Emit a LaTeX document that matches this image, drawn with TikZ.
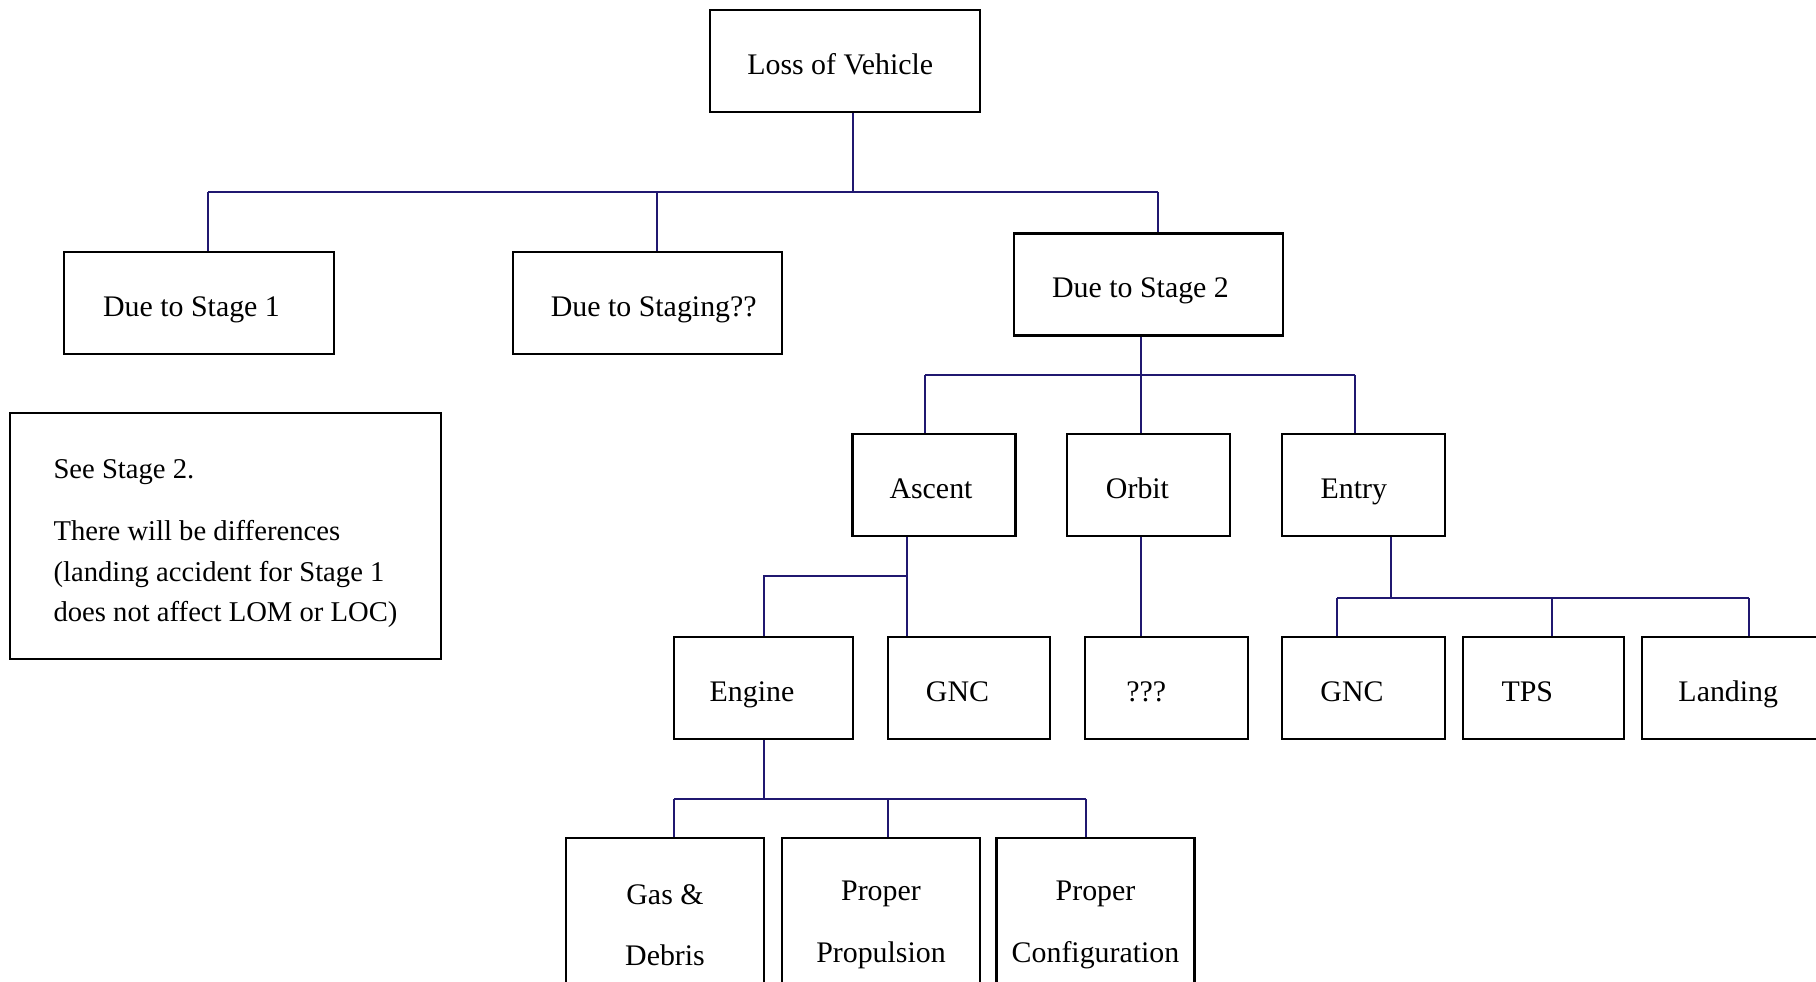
\documentclass[tikz,border=0pt]{standalone}
\usepackage{
	fontspec,			% Fonts
	tikz,
	xcolor
}
\setmainfont{Liberation Serif}
\definecolor{linkblue}{RGB}{32,24,112}

\begin{document}
\begin{tikzpicture}[
		box/.style={draw=black,line width=1.6pt,rectangle,inner sep=0pt,minimum height=2.04cm,font=\fontsize{17}{20}\selectfont},
		oneline/.style={text height=15pt,text depth=0pt},
		shiftl/.style={oneline,execute at end node={\hspace{#1}}},
		link/.style={draw=linkblue,line width=1.3pt}]
		% fix the page size
		\useasboundingbox (0cm,0cm) rectangle (36.32cm,19.62cm);
		\clip (0cm,0cm) rectangle (36.32cm,19.62cm);

		% the top of the tree
		\node[box,minimum width=5.4cm,shiftl=0.19cm] (vehicle) at (16.9cm,18.4cm) {Loss of Vehicle};
		\node[box,minimum width=5.4cm,shiftl=0.3cm] (stageone) at (3.98cm,13.56cm) {Due to Stage 1};
		\node[box,minimum width=5.38cm,shiftl=-0.25cm] (staging) at (12.95cm,13.56cm) {Due to Staging??};
		\node[box,minimum width=5.38cm,shiftl=0.32cm] (stagetwo) at (22.97cm,13.93cm) {Due to Stage 2};

		% the note for stage 1
		\node[box,minimum width=8.62cm,minimum height=4.92cm,align=left,font=\fontsize{16.3}{23}\selectfont] (note) at (4.51cm,8.9cm)
			{\rule{0pt}{19.5pt}See Stage 2.\\[12.5pt] There will be differences\\ (landing accident for Stage 1\\ does not affect LOM or LOC)};

		% the phases of stage 2
		\node[box,minimum width=3.26cm,shiftl=0.12cm] (ascent) at (18.68cm,9.92cm) {Ascent};
		\node[box,minimum width=3.26cm,shiftl=0.44cm] (orbit) at (22.97cm,9.92cm) {Orbit};
		\node[box,minimum width=3.26cm,shiftl=0.39cm] (entry) at (27.27cm,9.92cm) {Entry};

		% the causes of each phase
		\node[box,minimum width=3.58cm,shiftl=0.46cm] (engine) at (15.27cm,5.86cm) {Engine};
		\node[box,minimum width=3.24cm,shiftl=0.46cm] (gncascent) at (19.38cm,5.86cm) {GNC};
		\node[box,minimum width=3.26cm,shiftl=0.81cm] (unknown) at (23.33cm,5.86cm) {???};
		\node[box,minimum width=3.26cm,shiftl=0.46cm] (gncentry) at (27.27cm,5.86cm) {GNC};
		\node[box,minimum width=3.22cm,shiftl=0.65cm] (tps) at (30.87cm,5.86cm) {TPS};
		\node[box,minimum width=3.64cm,shiftl=0.19cm] (landing) at (34.66cm,5.86cm) {Landing};

		% the causes of the engine
		\foreach \x/\name/\xtext in {
			13.3/gas/Gas \&\\[15pt] Debris,
			17.62/propulsion/Proper\\[15pt] Propulsion,
		21.91/configuration/Proper\\[15pt] Configuration}
		\node[box,minimum width=3.96cm,minimum height=3.48cm,align=center] (\name) at (\x cm,1.12cm) {\xtext};

		% the junctions of the connectors
		\coordinate (busa) at (17.06cm,15.78cm);
		\coordinate (dropa1) at (4.16cm,15.78cm);
		\coordinate (dropa2) at (13.14cm,15.78cm);
		\coordinate (dropa3) at (23.16cm,15.78cm);
		\coordinate (busb) at (22.82cm,12.12cm);
		\coordinate (dropb1) at (18.5cm,12.12cm);
		\coordinate (dropb3) at (27.1cm,12.12cm);
		\coordinate (busc) at (18.14cm,8.1cm);
		\coordinate (dropc1) at (15.28cm,8.1cm);
		\coordinate (busd) at (27.82cm,7.66cm);
		\coordinate (dropd1) at (26.74cm,7.66cm);
		\coordinate (dropd2) at (31.04cm,7.66cm);
		\coordinate (dropd3) at (34.98cm,7.66cm);
		\coordinate (buse) at (15.28cm,3.64cm);
		\coordinate (drope1) at (13.48cm,3.64cm);
		\coordinate (drope2) at (17.76cm,3.64cm);
		\coordinate (drope3) at (21.72cm,3.64cm);

		% loss of vehicle to the stages
		\draw[link] (vehicle.south -| busa) -- (busa);
		\draw[link] (dropa1) -- (dropa3);
		\foreach \c/\n in {dropa1/stageone,dropa2/staging,dropa3/stagetwo}
			\draw[link] (\c) -- (\c |- \n.north);

		% stage 2 to the phases
		\draw[link] (stagetwo.south -| busb) -- (busb);
		\draw[link] (dropb1) -- (dropb3);
		\foreach \c/\n in {dropb1/ascent,busb/orbit,dropb3/entry}
			\draw[link] (\c) -- (\c |- \n.north);

		% the ascent, the orbit and the entry
		\draw[link] (ascent.south -| busc) -- (busc |- gncascent.north);
		\draw[link] (busc) -- (dropc1) -- (dropc1 |- engine.north);
		\draw[link] (orbit.south -| busb) -- (busb |- unknown.north);
		\draw[link] (entry.south -| busd) -- (busd);
		\draw[link] (dropd1) -- (dropd3);
		\foreach \c/\n in {dropd1/gncentry,dropd2/tps,dropd3/landing}
			\draw[link] (\c) -- (\c |- \n.north);

		% the engine
		\draw[link] (engine.south -| buse) -- (buse);
		\draw[link] (drope1) -- (drope3);
		\foreach \c/\n in {drope1/gas,drope2/propulsion,drope3/configuration}
			\draw[link] (\c) -- (\c |- \n.north);
	\end{tikzpicture}
\end{document}
